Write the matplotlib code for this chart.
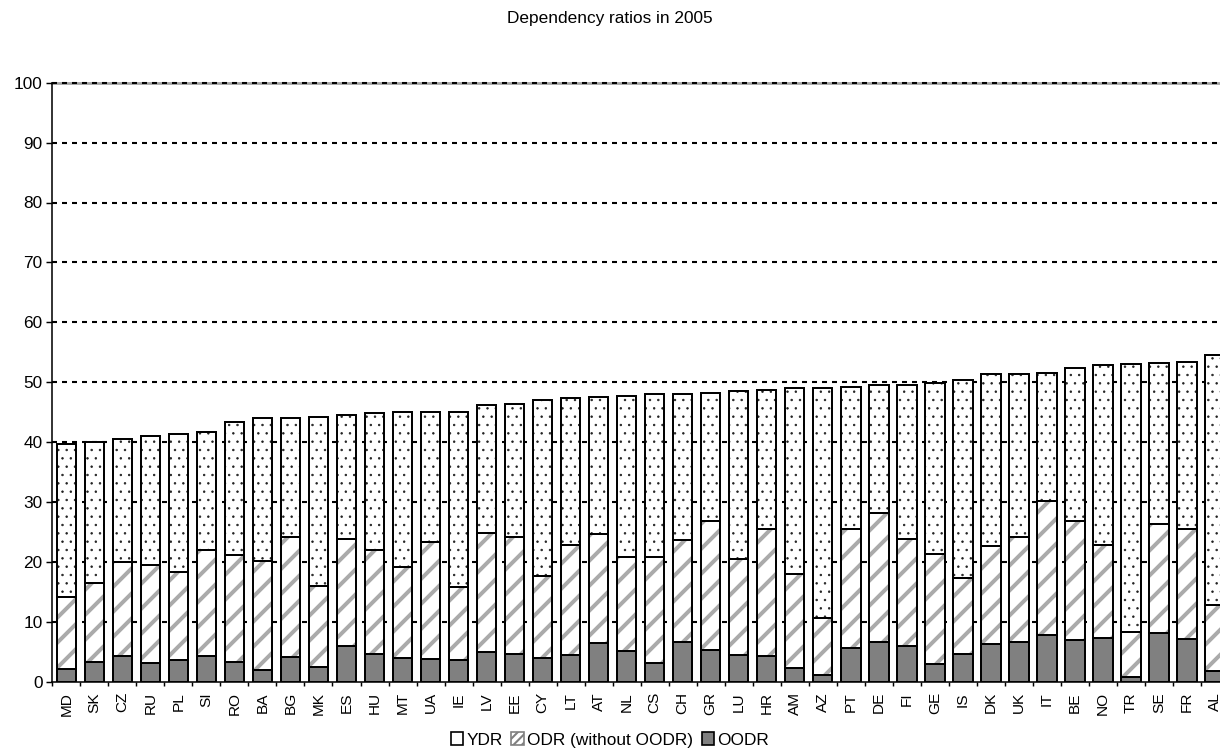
import matplotlib
matplotlib.use("Agg")
from matplotlib import pyplot as plt
from matplotlib.patches import Patch
import numpy as np

# country codes, sorted by total dependency ratio
countries = ["MD", "SK", "CZ", "RU", "PL", "SI", "RO", "BA", "BG", "MK",
             "ES", "HU", "MT", "UA", "IE", "LV", "EE", "CY", "LT", "AT",
             "NL", "CS", "CH", "GR", "LU", "HR", "AM", "AZ", "PT", "DE",
             "FI", "GE", "IS", "DK", "UK", "IT", "BE", "NO", "TR", "SE",
             "FR", "AL"]

# oldest old dependency ratio
oodr = [2.1, 3.3, 4.3, 3.1, 3.6, 4.3, 3.3, 2.0, 4.2, 2.5,
        6.0, 4.7, 4.0, 3.8, 3.7, 5.0, 4.6, 3.9, 4.4, 6.5,
        5.2, 3.2, 6.6, 5.3, 4.4, 4.3, 2.3, 1.2, 5.6, 6.6,
        5.9, 3.0, 4.6, 6.3, 6.7, 7.8, 6.9, 7.3, 0.8, 8.1,
        7.2, 1.8]

# old dependency ratio without the oldest old part
odr_wo = [12.0, 13.2, 15.7, 16.3, 14.7, 17.7, 17.9, 18.2, 20.0, 13.4,
          17.8, 17.3, 15.2, 19.6, 12.1, 19.8, 19.6, 13.8, 18.4, 18.2,
          15.6, 17.6, 17.1, 21.5, 16.1, 21.2, 15.6, 9.4, 19.9, 21.5,
          17.9, 18.4, 12.7, 16.4, 17.5, 22.4, 19.9, 15.6, 7.5, 18.2,
          18.3, 11.0]

# young dependency ratio
ydr = [25.6, 23.5, 20.5, 21.6, 23.1, 19.7, 22.1, 23.8, 19.8, 28.3,
       20.8, 22.9, 25.8, 21.6, 29.3, 21.4, 22.2, 29.3, 24.6, 22.9,
       26.9, 27.2, 24.4, 21.4, 28.0, 23.2, 31.1, 38.5, 23.7, 21.4,
       25.8, 28.5, 33.0, 28.6, 27.1, 21.3, 25.6, 30.0, 44.7, 26.9,
       27.9, 41.7]

yticks = list(range(0, 101, 10))

plt.rcParams['font.family'] = ['Liberation Sans', 'DejaVu Sans']

DPI = 150
W, H = 1220, 751
FS = 8.3
fig = plt.figure(figsize=(W / DPI, H / DPI), dpi=DPI)
# plot area runs a little past the right border, as in the original export
ax = fig.add_axes([52.3 / W, (H - 681.7) / H, (1229.1 - 52.3) / W, 599.0 / H])

x = np.arange(len(countries))
bw = 0.69
oodr_a = np.array(oodr)
odr_a = np.array(odr_wo)
ydr_a = np.array(ydr)
EDGE_LW = 0.95


def set_hatch_lw(bars, lw):
    for p in bars:
        if hasattr(p, 'set_hatch_linewidth'):
            p.set_hatch_linewidth(lw)


# OODR - solid grey
ax.bar(x, oodr_a, bw, color='#808080', edgecolor='black', linewidth=EDGE_LW, zorder=3)

# ODR (without OODR) - grey diagonal stripes
with plt.rc_context({'hatch.linewidth': 1.9}):
    b = ax.bar(x, odr_a, bw, bottom=oodr_a, facecolor='white', edgecolor='#aaaaaa',
               hatch='//', linewidth=0, zorder=3)
    set_hatch_lw(b, 1.9)
ax.bar(x, odr_a, bw, bottom=oodr_a, facecolor='none', edgecolor='black', linewidth=EDGE_LW, zorder=4)

# YDR - small dots
with plt.rc_context({'hatch.linewidth': 0.35}):
    b = ax.bar(x, ydr_a, bw, bottom=oodr_a + odr_a, facecolor='white', edgecolor='#202020',
               hatch='...', linewidth=0, zorder=3)
    set_hatch_lw(b, 0.35)
ax.bar(x, ydr_a, bw, bottom=oodr_a + odr_a, facecolor='none', edgecolor='black', linewidth=EDGE_LW, zorder=4)

ax.set_xlim(-0.5, len(countries) - 0.5)
ax.set_ylim(0, 100)
ax.set_yticks(yticks)
ax.set_yticklabels([str(t) for t in yticks], fontsize=FS)
ax.set_xticks(x)
ax.set_xticklabels(countries, rotation=90, fontsize=7.4)
ax.set_xticks(np.arange(len(countries) + 1) - 0.5, minor=True)
ax.tick_params(axis='x', which='major', length=0, pad=5)
ax.tick_params(axis='x', which='minor', length=2, width=0.7, direction='out')
ax.tick_params(axis='y', length=2.7, width=0.7, direction='out', pad=2)

# dotted gridlines
for t in yticks[1:]:
    ax.axhline(t, color='black', linewidth=1.0, linestyle=(0, (2.4, 2.4)), zorder=1.5, clip_on=False)

ax.spines['left'].set_linewidth(0.75)
ax.spines['bottom'].set_linewidth(0.75)
ax.spines['top'].set_color('#a0a0a0')
ax.spines['top'].set_linewidth(1.3)
ax.spines['top'].set_zorder(1)
ax.spines['right'].set_visible(False)

fig.text(0.5, 1 - 18 / H, "Dependency ratios in 2005", ha='center', va='center', fontsize=FS)

handles = [
    Patch(facecolor='white', edgecolor='black', linewidth=0.8, label='YDR'),
    Patch(facecolor='white', edgecolor='#808080', hatch='//////', linewidth=0.8, label='ODR (without OODR)'),
    Patch(facecolor='#808080', edgecolor='black', linewidth=0.8, label='OODR'),
]
fig.legend(handles=handles, loc='center', bbox_to_anchor=(0.5, 1 - 740 / H), ncol=3,
           frameon=False, fontsize=FS, handlelength=0.7, handleheight=0.7,
           handletextpad=0.2, columnspacing=0.5, borderpad=0)

fig.savefig('out.png', dpi=DPI)
